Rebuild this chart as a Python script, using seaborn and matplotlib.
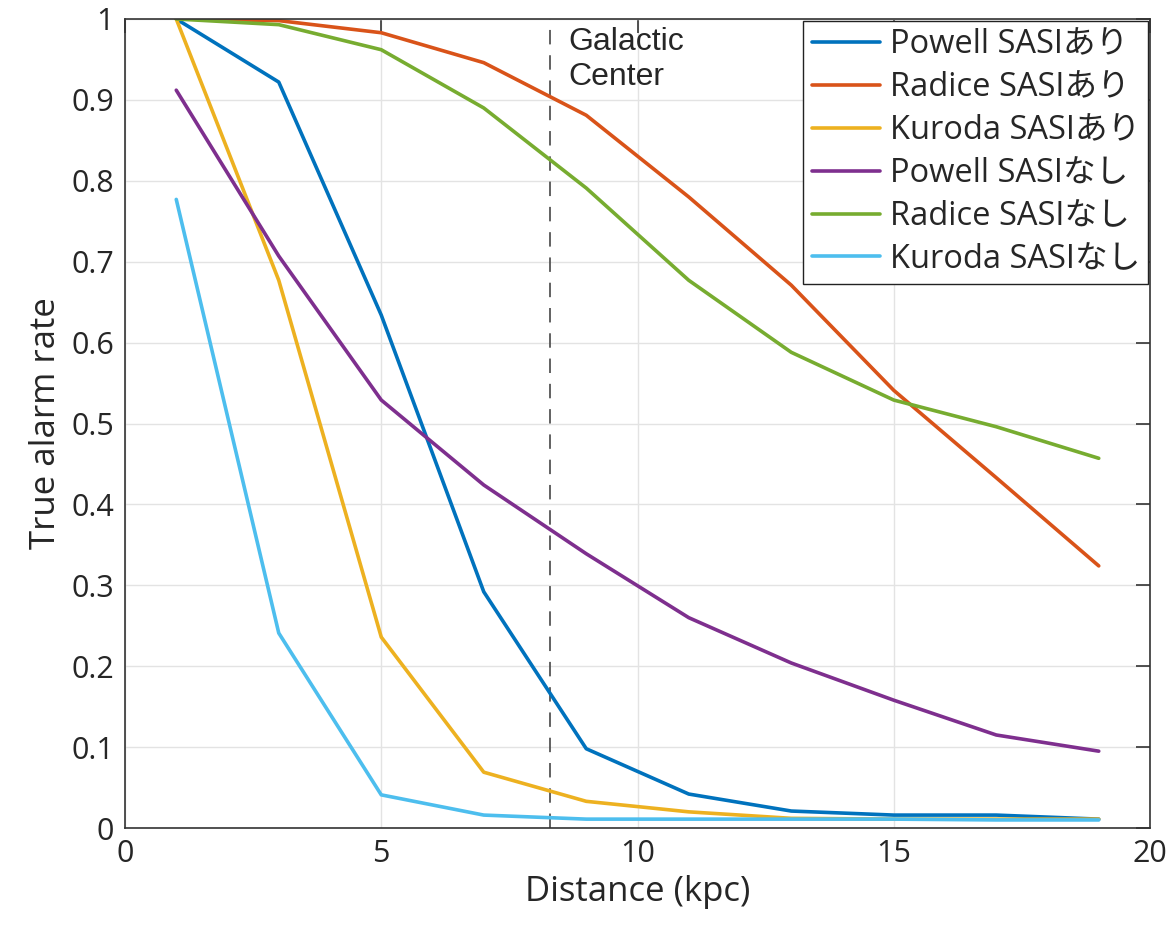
import numpy as np
import pandas as pd
import seaborn as sns
import matplotlib.pyplot as plt

############# Data #####################################
########################################################
distance = [1, 3, 5, 7, 9, 11, 13, 15, 17, 19]

powell_ari = [1.0, 0.922, 0.634, 0.292, 0.098, 0.042, 0.021, 0.016, 0.016, 0.011]
radice_ari = [1.0, 0.998, 0.983, 0.946, 0.881, 0.780, 0.671, 0.541, 0.433, 0.324]
kuroda_ari = [1.0, 0.677, 0.236, 0.069, 0.033, 0.020, 0.012, 0.011, 0.011, 0.011]
powell_nashi = [0.912, 0.707, 0.529, 0.424, 0.339, 0.260, 0.204, 0.158, 0.115, 0.095]
radice_nashi = [1.0, 0.993, 0.962, 0.890, 0.791, 0.677, 0.588, 0.529, 0.496, 0.457]
kuroda_nashi = [0.777, 0.241, 0.041, 0.016, 0.011, 0.011, 0.011, 0.011, 0.010, 0.010]

labels = ['Powell SASIあり', 'Radice SASIあり', 'Kuroda SASIあり',
          'Powell SASIなし', 'Radice SASIなし', 'Kuroda SASIなし']
colors = ['#0072BD', '#D95319', '#EDB120', '#7E2F8E', '#77AC30', '#4DBEEE']
galactic_center = 8.3

# long format for seaborn
series = [powell_ari, radice_ari, kuroda_ari, powell_nashi, radice_nashi, kuroda_nashi]
df = pd.concat([pd.DataFrame({'distance': distance, 'rate': vals, 'model': lab})
                for lab, vals in zip(labels, series)], ignore_index=True)

############# Plot #####################################
########################################################
sns.set_style('white')
plt.rcParams['font.family'] = ['Open Sans', 'Noto Sans CJK JP', 'DejaVu Sans']

fig = plt.figure(figsize=(11.76, 9.26), dpi=100)
ax = fig.add_axes([0.1063, 0.1058, 0.8716, 0.8737])

sns.lineplot(data=df, x='distance', y='rate', hue='model', hue_order=labels,
             palette=dict(zip(labels, colors)), linewidth=2.6, ax=ax, legend=False)

ax.axvline(galactic_center, color='#555555', linestyle=(0, (8, 6)), linewidth=1.3, zorder=1)
ax.text(galactic_center + 0.35, 0.99, 'Galactic\nCenter', fontsize=23, va='top', ha='left',
        family=['Liberation Sans', 'DejaVu Sans'], linespacing=1.2)

ax.set_xlim(0, 20)
ax.set_ylim(0, 1)
ax.set_xticks([0, 5, 10, 15, 20])
ax.set_yticks(np.arange(0, 1.01, 0.1))
ax.set_yticklabels(['0'] + [f'{v:.1f}' for v in np.arange(0.1, 0.95, 0.1)] + ['1'])
ax.grid(True, color='#e3e3e3', linewidth=1)
ax.tick_params(direction='in', length=10, width=1.2, labelsize=22, color='#333333',
               labelcolor='#262626', top=True, right=True, pad=8)
for s in ax.spines.values():
    s.set_color('#333333')
    s.set_linewidth(1.2)
ax.set_xlabel('Distance (kpc)', fontsize=25, color='#262626', labelpad=4)
ax.set_ylabel('True alarm rate', fontsize=25, color='#262626', labelpad=6)

handles = [plt.Line2D([], [], color=c, linewidth=2.6) for c in colors]
leg = ax.legend(handles, labels, loc='upper right', fontsize=23.5, handlelength=2.1,
                frameon=True, fancybox=False, edgecolor='#222222', framealpha=1,
                borderaxespad=0.05, labelspacing=0.3, handletextpad=0.3, borderpad=0.25)
leg.get_frame().set_linewidth(1.0)

plt.savefig('out.png', dpi=100)
